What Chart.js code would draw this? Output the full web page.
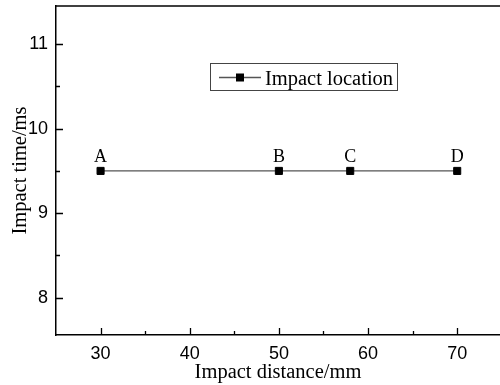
<!DOCTYPE html>
<html>
<head>
<meta charset="utf-8">
<script src="https://cdn.jsdelivr.net/npm/chart.js@4"></script>
<style>
  html, body { margin: 0; padding: 0; background: #fff; }
  #wrap { width: 500px; height: 385px; }
</style>
</head>
<body>
<div id="wrap"><canvas id="chart" width="500" height="385"></canvas></div>
<script>
// data
const distances = [30, 50, 58, 70]
const times = [9.5, 9.5, 9.5, 9.5]
const pointNames = ["A", "B", "C", "D"]
const seriesName = "Impact location"
const xTicks = [30, 40, 50, 60, 70]
const yTicks = [8, 9, 10, 11]
const xMinor = [35, 45, 55, 65]
const yMinor = [8.5, 9.5, 10.5]

const serif = "'Liberation Serif', 'Times New Roman', serif"
const sans = "'Liberation Sans', Arial, sans-serif"

// inward ticks, top frame, point letters and the boxed legend
const decorations = {
    id: "decorations",
    afterDraw(chart){
        let ctx = chart.ctx
        let area = chart.chartArea
        let xs = chart.scales.x
        let ys = chart.scales.y
        ctx.save()
        ctx.strokeStyle = "#000"
        ctx.lineWidth = 1.5
        ctx.beginPath()
        ctx.moveTo(area.left, area.top)
        ctx.lineTo(area.right, area.top)
        ctx.stroke()

        ctx.lineWidth = 1.3
        ctx.beginPath()
        for(let v of xTicks){
            let px = Math.round(xs.getPixelForValue(v)) + 0.5
            ctx.moveTo(px, area.bottom); ctx.lineTo(px, area.bottom - 7)
        }
        for(let v of xMinor){
            let px = Math.round(xs.getPixelForValue(v)) + 0.5
            ctx.moveTo(px, area.bottom); ctx.lineTo(px, area.bottom - 4)
        }
        for(let v of yTicks){
            let py = Math.round(ys.getPixelForValue(v)) + 0.5
            ctx.moveTo(area.left, py); ctx.lineTo(area.left + 7, py)
        }
        for(let v of yMinor){
            let py = Math.round(ys.getPixelForValue(v)) + 0.5
            ctx.moveTo(area.left, py); ctx.lineTo(area.left + 4, py)
        }
        ctx.stroke()

        // letters above points
        ctx.fillStyle = "#000"
        ctx.font = "18px " + serif
        ctx.textAlign = "center"
        ctx.textBaseline = "alphabetic"
        let meta = chart.getDatasetMeta(0)
        meta.data.forEach((pt, i) => {
            ctx.fillText(pointNames[i], pt.x, pt.y - 9)
        })

        // legend
        let bx = 210, by = 63, bw = 187, bh = 27
        ctx.strokeStyle = "#444"
        ctx.lineWidth = 1
        ctx.strokeRect(bx + 0.5, by + 0.5, bw, bh)
        let ly = by + bh / 2 + 1
        ctx.strokeStyle = "#555"
        ctx.lineWidth = 1.3
        ctx.beginPath()
        ctx.moveTo(bx + 9, ly); ctx.lineTo(bx + 51, ly)
        ctx.stroke()
        ctx.fillStyle = "#000"
        ctx.fillRect(bx + 26, ly - 4, 8, 8)
        ctx.font = "20.5px " + serif
        ctx.textAlign = "left"
        ctx.fillText(seriesName, bx + 55, by + 22)
        ctx.restore()
    }
}

function noPad(s){
    s.paddingTop = 0
    s.paddingBottom = 0
    s.paddingLeft = 0
    s.paddingRight = 0
}

new Chart(document.getElementById("chart"), {
    type: "scatter",
    data: {
        datasets: [{
            label: seriesName,
            data: distances.map((d, i) => ({x: d, y: times[i]})),
            showLine: true,
            borderColor: "#555",
            borderWidth: 1.3,
            pointStyle: "rect",
            pointRadius: 5,
            pointBorderWidth: 1,
            pointBackgroundColor: "#000",
            pointBorderColor: "#000"
        }]
    },
    options: {
        responsive: false,
        animation: false,
        layout: {autoPadding: false, padding: {top: 6, right: 0, left: 0, bottom: 0}},
        plugins: {legend: {display: false}, tooltip: {enabled: false}},
        scales: {
            x: {
                type: "linear",
                min: 25,
                max: 74.8,
                afterBuildTicks: s => { s.ticks = xTicks.map(v => ({value: v})) },
                afterFit: s => { s.height = 50; noPad(s) },
                grid: {display: false, drawTicks: false},
                border: {display: true, color: "#000", width: 1.5},
                ticks: {color: "#000", padding: 8, font: {family: sans, size: 18}},
                title: {display: true, text: "Impact distance/mm", color: "#000",
                    font: {family: serif, size: 20.5}, padding: {top: 0, bottom: 0}}
            },
            y: {
                type: "linear",
                min: 7.56,
                max: 11.45,
                afterBuildTicks: s => { s.ticks = yTicks.map(v => ({value: v})) },
                afterFit: s => { s.width = 56; noPad(s) },
                grid: {display: false, drawTicks: false},
                border: {display: true, color: "#000", width: 1.5},
                ticks: {color: "#000", padding: 8, font: {family: sans, size: 18}},
                title: {display: true, text: "Impact time/ms", color: "#000",
                    font: {family: serif, size: 20.5}, padding: {top: 8, bottom: 0}}
            }
        }
    },
    plugins: [decorations]
})
</script>
</body>
</html>
